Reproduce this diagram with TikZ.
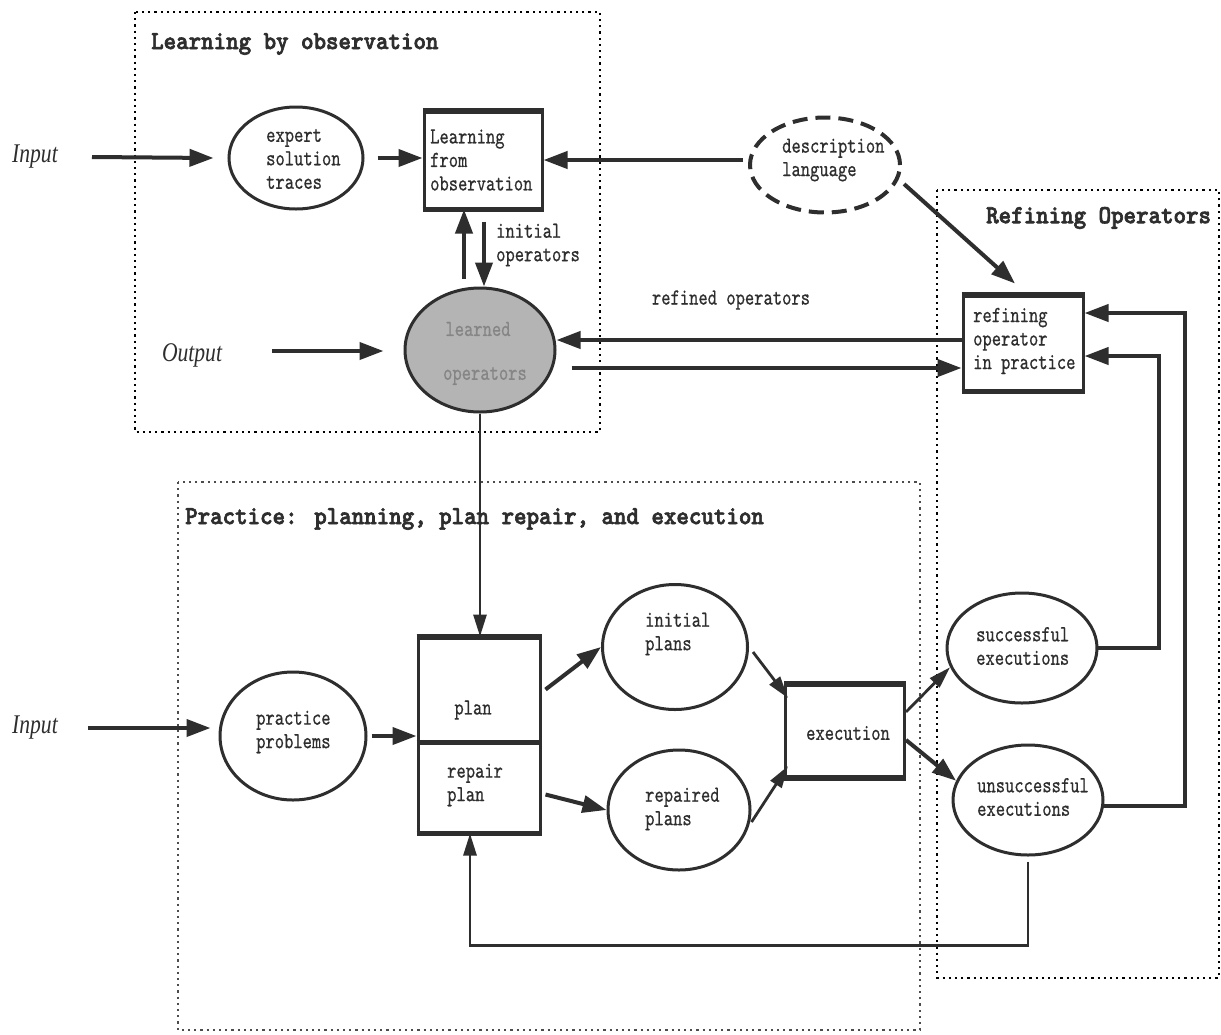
\documentclass[tikz,border=0pt]{standalone}
\usepackage{fontspec}
\usetikzlibrary{arrows.meta,shapes.geometric,calc}
\newfontfamily\monofnt[FakeStretch=0.77,FakeBold=0.6]{lmmono10-regular.otf}
\newfontfamily\headfnt[FakeStretch=0.915,FakeBold=2.5]{lmmonolt10-bold.otf}
\newfontfamily\serifit[FakeStretch=0.8]{Liberation Serif}
\definecolor{ink}{HTML}{2E2E2E}
\definecolor{shade}{HTML}{B4B4B4}
% thick top and bottom edges of a box node
\newcommand\edgebars[1]{\draw[ink,line width=5.5pt] (#1.north west) -- (#1.north east) (#1.south west) -- (#1.south east);}

\begin{document}
\begin{tikzpicture}[x=1pt,y=-1pt,
  txt/.style={font=\monofnt\fontsize{23}{23.5}\selectfont, align=left, inner sep=0pt, text=ink},
  ttl/.style={font=\headfnt\fontsize{26}{28}\selectfont, anchor=west, inner sep=0pt, text=ink},
  io/.style={font=\serifit\itshape\fontsize{27}{29}\selectfont, inner sep=0pt, text=ink},
  oval/.style={ellipse, draw=ink, line width=3pt, inner sep=0pt},
  boxn/.style={rectangle, draw=ink, line width=3pt, inner sep=0pt},
  dotframe/.style={line width=2.2pt, dash pattern=on 2.2pt off 4pt},
  arr/.style={draw=ink, line width=4pt, -{Triangle[length=24pt,width=17pt]}},
  arrthin/.style={draw=ink, line width=2.8pt, -{Triangle[length=22pt,width=13pt]}},
]
\useasboundingbox[fill=white] (0,0) rectangle (1221,1034);

% dotted group frames
\draw[dotframe] (135,12) rectangle (600,432);
\draw[dotframe, black!70] (178,482) rectangle (920,1030);
\draw[dotframe] (937,190) rectangle (1219,978);

% group titles
\node[ttl] (t1) at (151,44) {Learning by observation};
\node[ttl] (t2) at (185,519) {Practice: planning, plan repair, and execution};
\node[ttl] (t3) at (986,218) {Refining Operators};

% inputs and output
\node[io] (in1) at (35,157) {Input};
\node[io] (out) at (192,355) {Output};
\node[io] (in2) at (35,728) {Input};

% learning by observation
\node[oval, minimum width=134, minimum height=102] (exp) at (296,158) {};
\node[txt, anchor=west] (expt) at (266,159) {expert\\solution\\traces};
\node[boxn, minimum width=118, minimum height=96] (lfo) at (483,160) {};
\edgebars{lfo}
\node[txt, anchor=west] (lfot) at (430,160) {Learning\\from\\observation};
\node[oval, fill=shade, minimum width=150, minimum height=124] (lrn) at (480,350) {};
\node[txt, text=black!48] (lrn1) at (478,329) {learned};
\node[txt, text=black!48] (lrn2) at (485,376) {operators};
\node[txt, anchor=west] (iop) at (496,245) {initial\\operators};

% description language
\node[oval, dash pattern=on 15pt off 8pt, line width=4pt, minimum width=150, minimum height=95] (desc) at (825,165) {};
\node[txt, anchor=west] (desct) at (782,160) {description\\language};

% refining operators
\node[boxn, minimum width=120, minimum height=94] (ref) at (1023,343) {};
\edgebars{ref}
\node[txt, anchor=west] (reft) at (973,341) {refining\\operator\\in practice};
\node[txt] (rfl) at (731,300) {refined operators};

% practice
\node[oval, minimum width=146, minimum height=128] (pp) at (293,736) {};
\node[txt, anchor=west] (ppt) at (256,732) {practice\\problems};
\node[boxn, minimum width=122, minimum height=103] (plan) at (479,689.5) {};
\node[boxn, minimum width=122, minimum height=91] (repair) at (479,786.5) {};
\draw[ink,line width=5.5pt] (plan.north west) -- (plan.north east) (plan.south west) -- (plan.south east) (repair.south west) -- (repair.south east);
\node[txt] (plant) at (473,710) {plan};
\node[txt, anchor=west] (repairt) at (447,785) {repair\\plan};
\node[oval, minimum width=145, minimum height=125] (init) at (675,647) {};
\node[txt, anchor=west] (initt) at (645,634) {initial\\plans};
\node[oval, minimum width=142, minimum height=120] (rep) at (679,810) {};
\node[txt, anchor=west] (rept) at (645,809) {repaired\\plans};
\node[boxn, minimum width=119, minimum height=91] (exec) at (845,731) {};
\edgebars{exec}
\node[txt] (exect) at (848,733) {execution};
\node[oval, minimum width=150, minimum height=110] (succ) at (1022,648) {};
\node[txt, anchor=west] (succt) at (976,646) {successful\\executions};
\node[oval, minimum width=150, minimum height=110] (unsucc) at (1028,800) {};
\node[txt, anchor=west] (unsucct) at (977,797) {unsuccessful\\executions};

% connectors: learning by observation
\draw[arr] ([xshift=34pt]in1.east) -- ([xshift=-14pt]exp.west);
\draw[arr] ([xshift=13pt]exp.east) -- (exp.east -| lfo.west);
\draw[arr] ([xshift=-5pt]desc.west |- lfo.east) -- (lfo.east);
\draw[arr] ($(lfo.south)+(-19,69)$) -- ($(lfo.south)+(-19,0)$);
\coordinate (dn) at ($(lfo.south)+(1,12)$);
\draw[arr] (dn) -- (dn |- lrn.north);
\coordinate (oa) at ($(out.east)+(50,-4)$);
\draw[arr] (oa) -- ([xshift=-20pt]oa -| lrn.west);

% connectors: refining loop
\draw[arr] ([xshift=8pt]desc.-15) -- ($(ref.north)+(-8,-11)$);
\coordinate (rl) at ($(ref.west)+(0,-3)$);
\draw[arr] (rl) -- (rl -| lrn.east);
\coordinate (lr) at ($(lrn.east)+(15,18)$);
\draw[arr] (lr) -- (lr -| ref.west);
\coordinate (sx) at ($(ref.east)+(74,13)$);
\draw[arr] ([xshift=-2pt]succ.east) -| (sx) -- (sx -| ref.east);
\coordinate (ux) at ($(ref.east)+(100,-30)$);
\draw[arr] ($(unsucc.east)+(-2,6)$) -| (ux) -- (ux -| ref.east);

% connectors: practice
\draw[arrthin] (lrn.south) -- (lrn.south |- plan.north);
\coordinate (ia) at ($(in2.east -| pp.west)+(-8,0)$);
\draw[arr] ([xshift=30pt]in2.east) -- (ia);
\draw[arr] ([xshift=4pt]pp.east) -- (pp.east -| plan.west);
\draw[arr] ([xshift=4pt]plan.east) -- (init.west);
\draw[arr] ($(repair.east)+(4,8)$) -- (rep.west);
\draw[arrthin] ($(init.east)+(4,5)$) -- ($(exec.north west)+(4,14)$);
\draw[arrthin] ($(rep.east)+(0,12)$) -- ($(exec.south west)+(4,-12)$);
\draw[arrthin] ($(exec.east)+(0,-19)$) -- (succ.195);
\draw[arr] ($(exec.east)+(0,9)$) -- (unsucc.165);
\draw[arrthin] ($(unsucc.south)+(0,5)$) -- ($(unsucc.south)+(0,89)$) -| ($(repair.south)+(-9,0)$);
\end{tikzpicture}
\end{document}
